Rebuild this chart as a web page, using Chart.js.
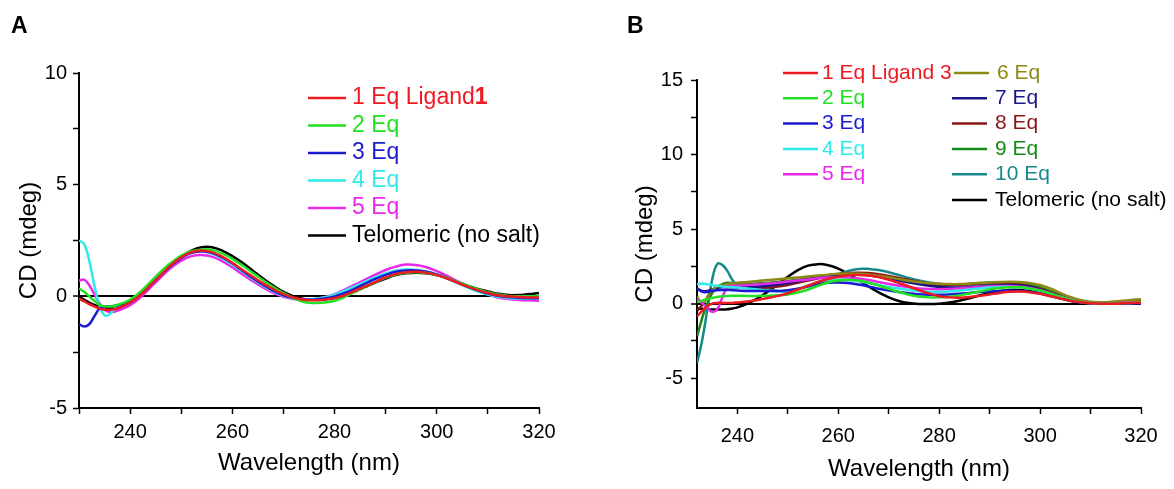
<!DOCTYPE html>
<html>
<head>
<meta charset="utf-8">
<script src="https://cdn.jsdelivr.net/npm/chart.js@4/dist/chart.umd.min.js"></script>
<style>
    body { margin: 0; background: #fff; font-family: "Liberation Sans", Arial, sans-serif; }
    #page { position: relative; width: 1174px; height: 489px; overflow: hidden; }
    canvas { position: absolute; top: 0; }
    #chart-a { left: 0; }
    #chart-b { left: 587px; }
    .panel-tag { position: absolute; top: 12px; font-weight: bold; font-size: 23px; }
</style>
</head>
<body>
<div id="page">
    <canvas id="chart-a" width="587" height="489"></canvas>
    <canvas id="chart-b" width="587" height="489"></canvas>
    <div class="panel-tag" style="left: 11px;">A</div>
    <div class="panel-tag" style="left: 627px;">B</div>
</div>
<script>
// Panel A: ligand 1 titration (wavelength in nm, CD in mdeg)
const wavelengthA = [230, 231, 232, 233, 234, 235, 236, 237, 238, 240, 242, 244, 246, 248, 250, 252, 254, 256, 258, 260,
    262, 264, 266, 268, 270, 272, 274, 276, 278, 280, 282, 284, 286, 288, 290, 292, 294, 296, 298, 300,
    302, 304, 306, 308, 310, 312, 314, 316, 318, 320];

const eq1A = [-0.1, -0.22, -0.35, -0.45, -0.55, -0.6, -0.6, -0.57, -0.5, -0.28, 0.05, 0.5, 0.95, 1.4, 1.75, 1.98, 2.05, 1.98, 1.78, 1.5,
    1.18, 0.88, 0.58, 0.32, 0.1, -0.05, -0.15, -0.18, -0.15, -0.08, 0.05, 0.25, 0.45, 0.65, 0.85, 1.0, 1.08, 1.1, 1.05, 0.95,
    0.8, 0.62, 0.44, 0.28, 0.15, 0.05, 0.0, -0.03, -0.05, -0.05];
const eq2A = [0.35, 0.2, 0.0, -0.2, -0.38, -0.45, -0.45, -0.42, -0.35, -0.15, 0.2, 0.65, 1.1, 1.5, 1.82, 2.02, 2.1, 2.08, 1.92, 1.68,
    1.38, 1.05, 0.72, 0.42, 0.15, -0.08, -0.25, -0.3, -0.28, -0.2, -0.02, 0.2, 0.42, 0.64, 0.84, 0.98, 1.06, 1.08, 1.04, 0.95,
    0.82, 0.65, 0.48, 0.32, 0.18, 0.08, 0.02, 0.0, 0.0, 0.0];
const eq3A = [-1.25, -1.35, -1.25, -0.9, -0.55, -0.45, -0.45, -0.42, -0.38, -0.22, 0.08, 0.5, 0.95, 1.38, 1.72, 1.95, 2.02, 1.95, 1.75, 1.48,
    1.15, 0.82, 0.52, 0.26, 0.05, -0.08, -0.15, -0.15, -0.1, 0.0, 0.15, 0.35, 0.57, 0.78, 0.96, 1.1, 1.16, 1.16, 1.1, 0.98,
    0.82, 0.63, 0.44, 0.27, 0.13, 0.03, -0.03, -0.06, -0.08, -0.08];
const eq4A = [2.5, 2.35, 1.6, 0.5, -0.4, -0.85, -0.8, -0.55, -0.4, -0.22, 0.1, 0.55, 1.0, 1.45, 1.78, 1.98, 2.02, 1.92, 1.7, 1.42,
    1.1, 0.78, 0.48, 0.22, 0.02, -0.1, -0.15, -0.12, -0.05, 0.08, 0.25, 0.45, 0.66, 0.86, 1.03, 1.15, 1.2, 1.18, 1.1, 0.97,
    0.8, 0.6, 0.4, 0.22, 0.08, -0.02, -0.07, -0.1, -0.1, -0.1];
const eq5A = [0.7, 0.75, 0.5, 0.1, -0.3, -0.6, -0.7, -0.68, -0.6, -0.4, -0.05, 0.4, 0.85, 1.28, 1.6, 1.8, 1.85, 1.78, 1.58, 1.3,
    0.98, 0.68, 0.4, 0.15, -0.02, -0.12, -0.15, -0.12, -0.04, 0.1, 0.3, 0.52, 0.75, 0.97, 1.18, 1.33, 1.42, 1.4, 1.3, 1.13,
    0.92, 0.68, 0.45, 0.25, 0.08, -0.05, -0.12, -0.16, -0.18, -0.2];
const teloA = [0.0, -0.15, -0.28, -0.38, -0.45, -0.5, -0.53, -0.54, -0.5, -0.3, 0.05, 0.45, 0.9, 1.35, 1.75, 2.05, 2.2, 2.2, 2.05, 1.8,
    1.5, 1.15, 0.8, 0.48, 0.2, 0.0, -0.12, -0.15, -0.14, -0.08, 0.05, 0.22, 0.42, 0.62, 0.8, 0.95, 1.03, 1.06, 1.03, 0.95,
    0.82, 0.65, 0.48, 0.33, 0.22, 0.12, 0.06, 0.06, 0.1, 0.15];

// Panel B: ligand 3 titration
const wavelengthB = [232, 233, 234, 235, 236, 237, 238, 239, 240, 242, 244, 246, 248, 250, 252, 254, 256, 258, 260,
    262, 264, 266, 268, 270, 272, 274, 276, 278, 280, 282, 284, 286, 288, 290, 292, 294, 296, 298, 300,
    302, 304, 306, 308, 310, 312, 314, 316, 318, 320];

const eq1B = [-0.85, -0.5, -0.2, 0.0, 0.05, 0.05, 0.05, 0.05, 0.08, 0.15, 0.25, 0.38, 0.52, 0.7, 0.95, 1.2, 1.45, 1.65, 1.8,
    1.9, 1.92, 1.88, 1.78, 1.6, 1.38, 1.15, 0.9, 0.68, 0.5, 0.42, 0.4, 0.44, 0.52, 0.62, 0.72, 0.8, 0.82, 0.77, 0.66,
    0.5, 0.35, 0.2, 0.1, 0.03, 0.0, 0.0, 0.02, 0.05, 0.05];
const eq2B = [0.1, 0.2, 0.3, 0.38, 0.45, 0.5, 0.52, 0.53, 0.53, 0.52, 0.52, 0.53, 0.56, 0.62, 0.75, 0.95, 1.2, 1.42, 1.55,
    1.6, 1.55, 1.42, 1.22, 1.0, 0.78, 0.6, 0.48, 0.42, 0.42, 0.46, 0.55, 0.68, 0.82, 0.95, 1.05, 1.1, 1.1, 1.02, 0.88,
    0.68, 0.46, 0.26, 0.12, 0.04, 0.0, 0.0, 0.02, 0.05, 0.08];
const eq3B = [1.05, 0.8, 0.78, 0.85, 0.9, 0.92, 0.92, 0.9, 0.88, 0.85, 0.85, 0.85, 0.85, 0.9, 1.0, 1.15, 1.3, 1.4, 1.42,
    1.38, 1.28, 1.15, 1.0, 0.88, 0.78, 0.7, 0.63, 0.6, 0.6, 0.62, 0.66, 0.72, 0.78, 0.82, 0.85, 0.86, 0.84, 0.78, 0.68,
    0.52, 0.35, 0.2, 0.09, 0.03, 0.0, -0.01, 0.0, 0.02, 0.03];
const eq4B = [1.3, 1.35, 1.3, 1.25, 1.2, 1.15, 1.12, 1.1, 1.08, 1.02, 0.95, 0.88, 0.82, 0.85, 1.0, 1.2, 1.4, 1.55, 1.6,
    1.58, 1.5, 1.38, 1.25, 1.12, 1.02, 0.92, 0.85, 0.8, 0.8, 0.82, 0.88, 0.95, 1.02, 1.08, 1.12, 1.12, 1.08, 1.0, 0.85,
    0.65, 0.44, 0.25, 0.1, 0.03, 0.0, 0.0, 0.02, 0.05, 0.07];
const eq5B = [0.3, 0.05, -0.3, -0.55, -0.4, 0.4, 1.1, 1.2, 1.2, 1.25, 1.3, 1.35, 1.4, 1.48, 1.55, 1.62, 1.7, 1.75, 1.77,
    1.75, 1.68, 1.58, 1.45, 1.32, 1.2, 1.1, 1.02, 0.98, 0.97, 0.98, 1.02, 1.07, 1.12, 1.16, 1.18, 1.18, 1.14, 1.05, 0.9,
    0.7, 0.48, 0.28, 0.13, 0.05, 0.02, 0.02, 0.04, 0.07, 0.1];
const eq6B = [0.5, 0.05, 0.4, 0.9, 1.15, 1.22, 1.3, 1.35, 1.4, 1.45, 1.52, 1.58, 1.64, 1.7, 1.76, 1.82, 1.88, 1.94, 2.0,
    2.02, 2.0, 1.95, 1.87, 1.77, 1.65, 1.53, 1.44, 1.37, 1.33, 1.31, 1.31, 1.34, 1.38, 1.42, 1.45, 1.47, 1.45, 1.38, 1.25,
    1.02, 0.72, 0.45, 0.24, 0.13, 0.1, 0.12, 0.17, 0.24, 0.3];
const eq7B = [1.0, 0.85, 0.85, 0.95, 1.05, 1.1, 1.12, 1.12, 1.12, 1.12, 1.15, 1.2, 1.28, 1.38, 1.5, 1.62, 1.75, 1.85, 1.92,
    1.95, 1.95, 1.9, 1.8, 1.68, 1.55, 1.42, 1.3, 1.2, 1.12, 1.08, 1.08, 1.1, 1.15, 1.2, 1.24, 1.25, 1.22, 1.12, 0.95,
    0.72, 0.48, 0.27, 0.12, 0.04, 0.0, -0.01, 0.0, 0.02, 0.03];
const eq8B = [-0.5, -0.1, 0.4, 0.9, 1.1, 1.15, 1.12, 1.1, 1.08, 1.05, 1.05, 1.08, 1.15, 1.25, 1.4, 1.55, 1.7, 1.85, 1.98,
    2.05, 2.08, 2.05, 1.97, 1.85, 1.72, 1.58, 1.45, 1.35, 1.28, 1.25, 1.27, 1.3, 1.35, 1.38, 1.38, 1.35, 1.28, 1.15, 0.98,
    0.75, 0.5, 0.28, 0.13, 0.06, 0.03, 0.03, 0.06, 0.1, 0.15];
const eq9B = [-2.2, -1.0, 0.0, 0.7, 1.1, 1.3, 1.4, 1.38, 1.35, 1.33, 1.35, 1.4, 1.45, 1.52, 1.6, 1.7, 1.8, 1.9, 1.98,
    2.02, 2.02, 1.98, 1.88, 1.75, 1.6, 1.47, 1.36, 1.28, 1.24, 1.24, 1.28, 1.33, 1.38, 1.42, 1.43, 1.42, 1.37, 1.27, 1.1,
    0.85, 0.58, 0.33, 0.15, 0.06, 0.02, 0.02, 0.05, 0.1, 0.15];
const eq10B = [-4.0, -2.5, -0.5, 1.6, 2.65, 2.6, 2.2, 1.6, 1.25, 1.05, 1.0, 0.95, 0.85, 0.8, 0.95, 1.2, 1.45, 1.7, 1.95,
    2.2, 2.33, 2.33, 2.25, 2.1, 1.92, 1.72, 1.55, 1.42, 1.33, 1.28, 1.27, 1.28, 1.3, 1.33, 1.35, 1.33, 1.27, 1.15, 0.98,
    0.75, 0.5, 0.28, 0.13, 0.06, 0.03, 0.03, 0.06, 0.1, 0.14];
const teloB = [-0.3, -0.35, -0.38, -0.4, -0.4, -0.4, -0.38, -0.32, -0.25, 0.0, 0.35, 0.8, 1.3, 1.8, 2.25, 2.55, 2.65, 2.58, 2.35,
    2.0, 1.58, 1.15, 0.75, 0.42, 0.18, 0.04, -0.02, -0.03, 0.0, 0.08, 0.2, 0.36, 0.55, 0.72, 0.85, 0.92, 0.92, 0.85, 0.72,
    0.55, 0.37, 0.2, 0.08, 0.02, 0.0, 0.0, 0.02, 0.05, 0.08];

const namesA = ['1 Eq Ligand', '2 Eq', '3 Eq', '4 Eq', '5 Eq', 'Telomeric (no salt)'];
const namesB = ['1 Eq Ligand 3', '2 Eq', '3 Eq', '4 Eq', '5 Eq', '6 Eq', '7 Eq', '8 Eq', '9 Eq', '10 Eq', 'Telomeric (no salt)'];

const colorsA = ['#ee1a22', '#22e022', '#1a1ad0', '#30eaea', '#ea28ea', '#000000'];
const colorsB = ['#ee1a22', '#22e022', '#1a1ad0', '#30eaea', '#ea28ea', '#8c8a14', '#16168a', '#8a1616', '#168a16', '#168a8a', '#000000'];

const FONT = '"Liberation Sans", Arial, sans-serif';

// legend drawn inside the plot area, text coloured like its line
const inlineLegend = {
    id: 'inlineLegend',
    afterDatasetsDraw(chart, args, opts) {
        const ctx = chart.ctx;
        ctx.save();
        ctx.textBaseline = 'middle';
        ctx.lineWidth = 2.5;
        opts.items.forEach(item => {
            const ds = chart.data.datasets[item.index];
            ctx.strokeStyle = ds.borderColor;
            ctx.beginPath();
            ctx.moveTo(item.x, item.y);
            ctx.lineTo(item.x + opts.lineLength, item.y);
            ctx.stroke();
            ctx.fillStyle = ds.borderColor;
            ctx.font = opts.size + 'px ' + FONT;
            const tx = item.x + opts.lineLength + (item.gap !== undefined ? item.gap : opts.gap);
            ctx.fillText(ds.label, tx, item.y);
            if (item.boldTail) {
                const w = ctx.measureText(ds.label).width;
                ctx.font = 'bold ' + opts.size + 'px ' + FONT;
                ctx.fillText(item.boldTail, tx + w, item.y);
            }
        });
        ctx.restore();
    }
};

function makeDatasets(wl, series, names, colors) {
    return series.map((vals, i) => ({
        label: names[i],
        data: wl.map((x, j) => ({ x: x, y: vals[j] })),
        borderColor: colors[i],
        backgroundColor: colors[i],
        borderWidth: 2.5,
        pointRadius: 0,
        tension: 0.4,
        fill: false
    }));
}

function isMultiple(v, step) {
    const r = Math.abs(v / step - Math.round(v / step));
    return r < 1e-6;
}

function buildChart(canvasId, cfg) {
    return new Chart(document.getElementById(canvasId), {
        type: 'line',
        data: { datasets: cfg.datasets },
        plugins: [inlineLegend],
        options: {
            responsive: false,
            animation: false,
            layout: { padding: { left: 0, top: cfg.top, right: cfg.right, bottom: 0 } },
            plugins: {
                legend: { display: false },
                tooltip: { enabled: false },
                inlineLegend: cfg.legend
            },
            scales: {
                x: {
                    type: 'linear',
                    min: cfg.xMin,
                    max: 320,
                    border: { color: '#000', width: 2 },
                    grid: { drawOnChartArea: false, tickLength: 6, tickColor: '#000', tickWidth: 1.5 },
                    ticks: {
                        stepSize: 10,
                        includeBounds: false,
                        autoSkip: false,
                        maxRotation: 0,
                        padding: cfg.xTickPad,
                        color: '#000',
                        font: { family: FONT, size: cfg.tickSize },
                        callback: v => isMultiple(v, 20) ? v : ''
                    },
                    title: {
                        display: true,
                        text: 'Wavelength (nm)',
                        color: '#000',
                        font: { family: FONT, size: cfg.titleSize },
                        padding: { top: 0, bottom: cfg.xTitlePad }
                    },
                    afterFit: scale => { scale.height = 489 - cfg.bottom; }
                },
                y: {
                    min: cfg.yMin,
                    max: cfg.yMax,
                    border: { color: '#000', width: 2 },
                    grid: {
                        drawOnChartArea: true,
                        tickLength: 6,
                        tickWidth: 1.5,
                        tickColor: '#000',
                        // only the zero baseline is drawn across the plot
                        color: c => c.tick.value === 0 ? '#000' : 'rgba(0,0,0,0)',
                        lineWidth: c => c.tick.value === 0 ? 2 : 1
                    },
                    ticks: {
                        stepSize: 2.5,
                        includeBounds: false,
                        autoSkip: false,
                        padding: cfg.yTickPad,
                        color: '#000',
                        font: { family: FONT, size: cfg.tickSize },
                        callback: v => isMultiple(v, 5) ? v : ''
                    },
                    title: {
                        display: true,
                        text: 'CD (mdeg)',
                        color: '#000',
                        font: { family: FONT, size: cfg.titleSize },
                        padding: { top: cfg.yTitlePad, bottom: 0 }
                    },
                    afterFit: scale => { scale.width = cfg.left; }
                }
            }
        }
    });
}

buildChart('chart-a', {
    datasets: makeDatasets(wavelengthA, [eq1A, eq2A, eq3A, eq4A, eq5A, teloA], namesA, colorsA),
    xMin: 230, yMin: -5, yMax: 10,
    left: 79, top: 73, right: 587 - 539, bottom: 408,
    tickSize: 20, titleSize: 24, xTickPad: 6, yTickPad: 6, yTitlePad: 15, xTitlePad: 11,
    legend: {
        size: 23, lineLength: 38, gap: 6,
        items: [
            { index: 0, x: 308, y: 98, boldTail: '1' },
            { index: 1, x: 308, y: 125.5 },
            { index: 2, x: 308, y: 153 },
            { index: 3, x: 308, y: 180.5 },
            { index: 4, x: 308, y: 208 },
            { index: 5, x: 308, y: 235.5 }
        ]
    }
});

buildChart('chart-b', {
    datasets: makeDatasets(wavelengthB, [eq1B, eq2B, eq3B, eq4B, eq5B, eq6B, eq7B, eq8B, eq9B, eq10B, teloB], namesB, colorsB),
    xMin: 232, yMin: -7, yMax: 15,
    left: 110, top: 80, right: 587 - 554, bottom: 408,
    tickSize: 20, titleSize: 24, xTickPad: 10, yTickPad: 8, yTitlePad: 44, xTitlePad: 5,
    legend: {
        size: 21, lineLength: 35, gap: 8,
        items: [
            { index: 0, x: 196, y: 73, gap: 4 },
            { index: 1, x: 196, y: 98.3, gap: 4 },
            { index: 2, x: 196, y: 123.6, gap: 4 },
            { index: 3, x: 196, y: 148.9, gap: 4 },
            { index: 4, x: 196, y: 174.2, gap: 4 },
            { index: 5, x: 367, y: 73 },
            { index: 6, x: 365, y: 98.3 },
            { index: 7, x: 365, y: 123.6 },
            { index: 8, x: 365, y: 148.9 },
            { index: 9, x: 365, y: 174.2 },
            { index: 10, x: 365, y: 200 }
        ]
    }
});
</script>
</body>
</html>
